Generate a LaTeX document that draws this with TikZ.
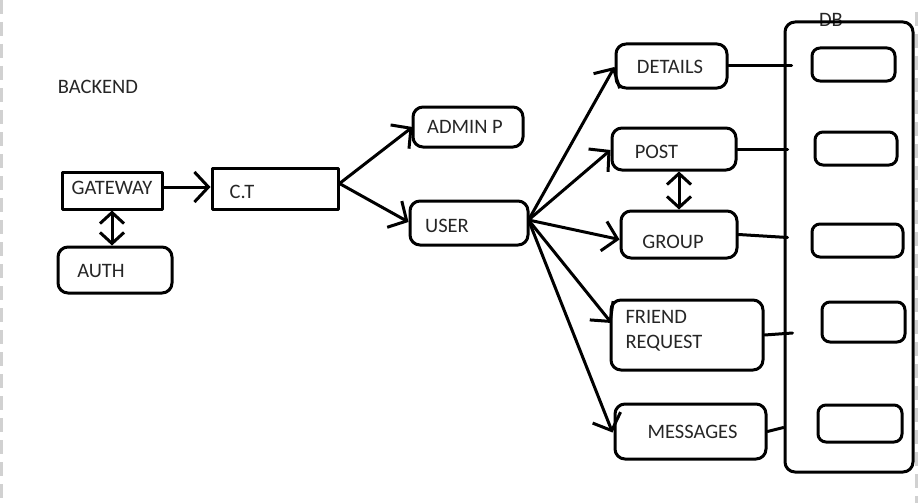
\documentclass[tikz,border=0pt]{standalone}
\usepackage{fontspec}
\setmainfont{Carlito}
\usetikzlibrary{arrows.meta}
\begin{document}
\begin{tikzpicture}[x=1pt,y=-1pt,
  line width=3pt, line cap=round, line join=round,
  sharpbox/.style={draw=black, rectangle, inner sep=0pt},
  roundbox/.style={draw=black, rectangle, rounded corners=10pt, inner sep=0pt},
  lbl/.style={text=black!85, inner sep=0pt, font=\fontsize{20.5}{25}\selectfont},
  flow/.style={-{Straight Barb[length=14pt,width=30pt,line width=3pt]}},
  both/.style={{Straight Barb[length=11pt,width=24pt,line width=3pt]}-{Straight Barb[length=11pt,width=24pt,line width=3pt]}},
  pageedge/.style={draw=black!18, line width=3pt, line cap=butt, dash pattern=on 14pt off 8pt}]
\useasboundingbox (0,0) rectangle (918,503);

% page edges of the canvas
\draw[pageedge] (1.5,0) -- (1.5,503);
\draw[pageedge] (916.5,12) -- (916.5,503);

\node[lbl] (backend) at (98,87) {BACKEND};

% gateway, auth, controller
\node[sharpbox, minimum width=100pt, minimum height=37pt] (gw) at (112,190.5) {};
\node[lbl] (gwt) at (112,188) {GATEWAY};
\node[roundbox, minimum width=114pt, minimum height=46pt] (auth) at (115,270) {};
\node[lbl] (autht) at (101,271) {AUTH};
\node[sharpbox, minimum width=126pt, minimum height=41pt] (ct) at (275,188.5) {};
\node[lbl] (ctt) at (242,192) {C.T};

% roles
\node[roundbox, minimum width=110pt, minimum height=40pt] (admin) at (468,127) {};
\node[lbl] (admint) at (465,127) {ADMIN P};
\node[roundbox, minimum width=118pt, minimum height=44pt] (user) at (469,223) {};
\node[lbl] (usert) at (447,226) {USER};

% user services
\node[roundbox, minimum width=111pt, minimum height=44pt] (details) at (671.5,66) {};
\node[lbl] (detailst) at (670,67) {DETAILS};
\node[roundbox, minimum width=124pt, minimum height=42pt] (post) at (674,149) {};
\node[lbl] (postt) at (656.5,152) {POST};
\node[roundbox, minimum width=116pt, minimum height=47pt] (group) at (679,234.5) {};
\node[lbl] (groupt) at (673,242) {GROUP};
\node[roundbox, minimum width=152pt, minimum height=70pt] (fr) at (687,335) {};
\node[lbl, anchor=west, align=left] (frt) at (624,331) {FRIEND\\REQUEST};
\node[roundbox, minimum width=151pt, minimum height=55pt] (msg) at (690.5,431.5) {};
\node[lbl] (msgt) at (692.5,432) {MESSAGES};

% database with its tables
\node[lbl] (dbt) at (831,20) {DB};
\node[roundbox, minimum width=128pt, minimum height=450pt] (db) at (849,247) {};
\node[roundbox, rounded corners=8pt, minimum width=83pt, minimum height=33pt] (s1) at (853.5,64.5) {};
\node[roundbox, rounded corners=8pt, minimum width=82pt, minimum height=33pt] (s2) at (856,148.5) {};
\node[roundbox, rounded corners=8pt, minimum width=91pt, minimum height=33pt] (s3) at (857.5,240.5) {};
\node[roundbox, rounded corners=8pt, minimum width=83pt, minimum height=40pt] (s4) at (863.5,322) {};
\node[roundbox, rounded corners=8pt, minimum width=84pt, minimum height=37pt] (s5) at (860,423.5) {};

% connectors
\draw[flow] ([yshift=3.5pt]gw.east) -- ([yshift=1.5pt]ct.west);
\draw[both] (gw.south) -- (gw.south |- auth.north);
\draw[flow] ([yshift=5pt]ct.east) -- ([xshift=1pt]admin.west);
\draw[flow] ([yshift=5pt]ct.east) -- ([yshift=1pt]user.west);

\coordinate (hub) at ([yshift=3pt,xshift=-1pt]user.east);
\draw[flow] (hub) -- ([yshift=-1pt]details.west);
\draw[flow] (hub) -- ([yshift=-1pt]post.west);
\draw[flow] (hub) -- ([yshift=-5pt]group.west);
\draw[flow] (hub) -- ([yshift=12pt,xshift=2pt]fr.west);
\draw[flow] (hub) -- ([yshift=-1pt,xshift=-1pt]msg.west);
\draw[both] ([xshift=5pt]post.south) -- ([xshift=5pt]post.south |- group.north);

\draw (details.east) -- ([xshift=8pt]details.east -| db.west);
\draw (post.east) -- ([xshift=4pt]post.east -| db.west);
\draw (group.east) -- ([xshift=4pt,yshift=-3pt]group.east -| db.west);
\draw (fr.east) -- ([xshift=9pt,yshift=2pt]fr.east -| db.west);
\draw (msg.east) -- ([yshift=4pt]msg.east -| db.west);
\end{tikzpicture}
\end{document}
